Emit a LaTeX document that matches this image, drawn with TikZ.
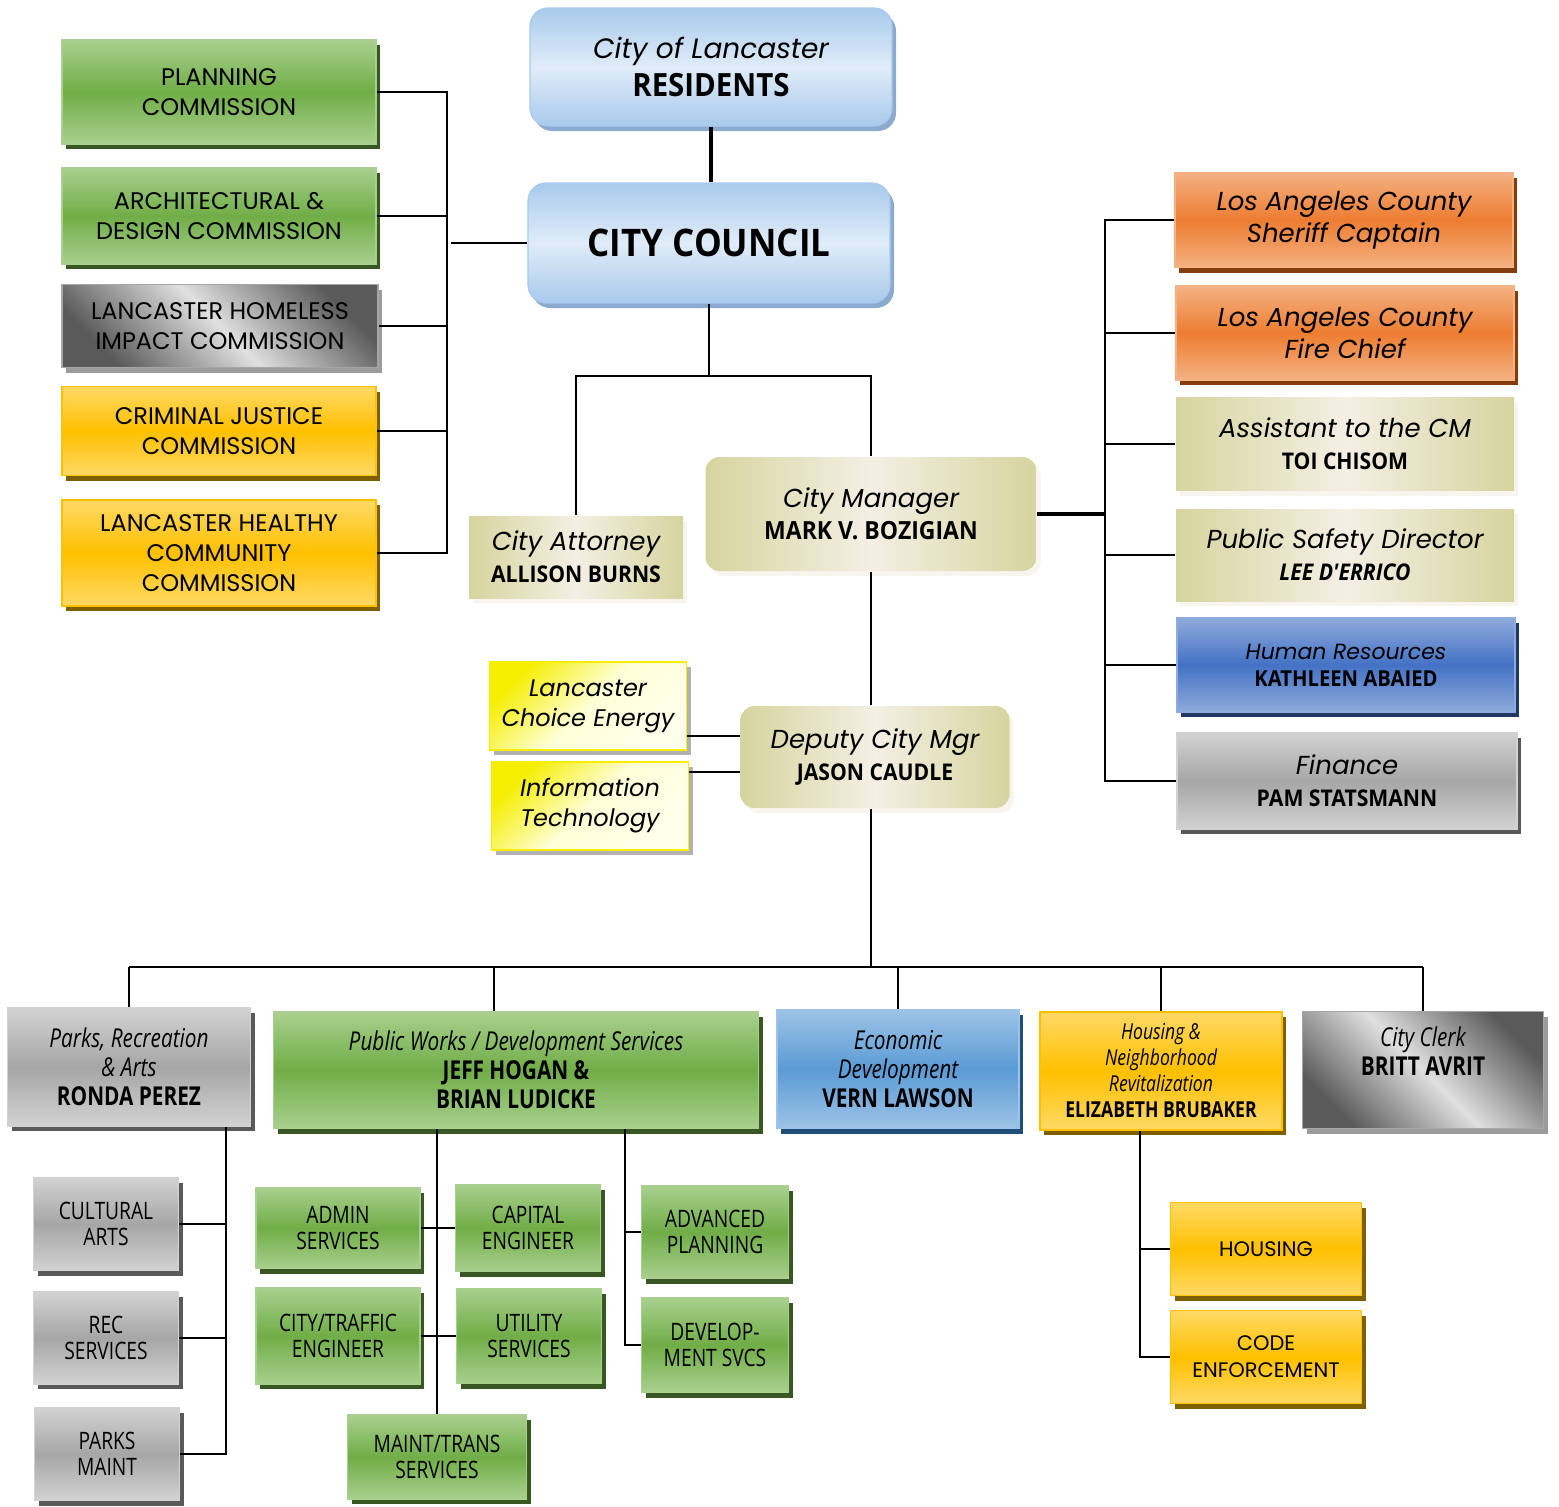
\documentclass[tikz,border=0pt]{standalone}
\usepackage{fontspec}
\setmainfont{Poppins}
\newfontfamily\nmfont[FakeStretch=0.92]{Open Sans}
\newfontfamily\cdfont[FakeStretch=0.8]{Open Sans}
\usetikzlibrary{shadows}
\definecolor{grnL}{RGB}{169,208,142}
\definecolor{grnD}{RGB}{112,173,71}
\definecolor{grnS}{RGB}{56,87,35}
\definecolor{ylwL}{RGB}{255,217,102}
\definecolor{ylwD}{RGB}{255,192,0}
\definecolor{ylwS}{RGB}{127,96,0}
\definecolor{orgL}{RGB}{244,177,131}
\definecolor{orgD}{RGB}{237,125,49}
\definecolor{orgS}{RGB}{132,60,12}
\definecolor{hrL}{RGB}{143,170,220}
\definecolor{hrD}{RGB}{68,114,196}
\definecolor{hrS}{RGB}{31,56,100}
\definecolor{ecL}{RGB}{157,195,230}
\definecolor{ecD}{RGB}{91,155,213}
\definecolor{ecS}{RGB}{31,78,121}
\definecolor{gryL}{RGB}{210,210,210}
\definecolor{gryD}{RGB}{166,166,166}
\definecolor{gryS}{RGB}{89,89,89}
\definecolor{gryK}{RGB}{90,90,90}
\definecolor{tanD}{RGB}{214,212,158}
\definecolor{tanL}{RGB}{244,239,228}
\definecolor{skyL}{RGB}{224,236,248}
\definecolor{skyD}{RGB}{168,202,236}
\definecolor{skyS}{RGB}{140,170,205}
\definecolor{lemL}{RGB}{255,255,215}
\definecolor{lemD}{RGB}{245,238,0}
\newcommand{\ttl}[1]{{\itshape #1}}
\newcommand{\nme}[1]{{\nmfont\bfseries #1}}
\tikzset{
  box/.style={rectangle,align=center,inner sep=2pt,line width=1.2pt},
  sz/.style 2 args={minimum width=#1pt,minimum height=#2pt},
  shd/.style={drop shadow={shadow xshift=4pt,shadow yshift=-5pt,fill=#1,opacity=1}},
  gbox/.style={box,draw=grnL,top color=grnL,bottom color=grnL,middle color=grnD,shd=grnS},
  ybox/.style={box,draw=ylwD,top color=ylwL,bottom color=ylwL,middle color=ylwD,shd=ylwS},
  obox/.style={box,draw=orgL,top color=orgL,bottom color=orgL,middle color=orgD,shd=orgS},
  hbox/.style={box,draw=hrL,top color=hrL,bottom color=hrL,middle color=hrD,shd=hrS},
  ebox/.style={box,draw=ecL,top color=ecL,bottom color=ecL,middle color=ecD,shd=ecS},
  pbox/.style={box,draw=gryL,top color=gryL,bottom color=gryL,middle color=gryD,shd=gryS},
  dbox/.style={box,draw=gryD,top color=gryK,bottom color=gryK,middle color=gryL!70!white,shading angle=-45,shd=gryS!60},
  tbox/.style={box,draw=none,left color=tanD,right color=tanD,middle color=tanL,shd=tanL!60!white},
  sbox/.style={box,draw=skyD,rounded corners=18pt,top color=skyD,bottom color=skyD,middle color=skyL,shd=skyS},
  lbox/.style={box,draw=lemD,top color=lemD,bottom color=lemL!50!white,middle color=lemL,shading angle=45,shd=gray!60},
  cmsn/.style={font=\fontsize{24}{30}\selectfont},
  head/.style={font=\fontsize{26}{32}\selectfont},
  low/.style={font=\cdfont\fontsize{26}{29}\selectfont},
  unit/.style={font=\cdfont\fontsize{24}{26}\selectfont},
  ln/.style={line width=2pt},
  thk/.style={line width=3.5pt}
}

\begin{document}
\begin{tikzpicture}[x=1pt,y=-1pt]
\useasboundingbox (0,0) rectangle (1559,1507);

% top of the chart
\node[sbox,font=\fontsize{28}{38}\selectfont,sz={362}{118}] (res) at (711,67) {\ttl{City of Lancaster}\\\nme{\fontsize{32}{38}\selectfont RESIDENTS}};
\node[sbox,sz={362}{120}] (council) at (709,243) {\nme{\fontsize{38}{42}\selectfont CITY COUNCIL}};

% commissions
\node[gbox,cmsn,sz={314}{104}] (plan) at (219,92) {PLANNING\\COMMISSION};
\node[gbox,cmsn,sz={314}{96}] (arch) at (219,216) {ARCHITECTURAL \&\\DESIGN COMMISSION};
\node[dbox,cmsn,sz={316}{83}] (home) at (220,326) {LANCASTER HOMELESS\\IMPACT COMMISSION};
\node[ybox,cmsn,sz={314}{89}] (crim) at (219,431) {CRIMINAL JUSTICE\\COMMISSION};
\node[ybox,cmsn,sz={314}{106}] (heal) at (219,553) {LANCASTER HEALTHY\\COMMUNITY\\COMMISSION};

% city attorney and manager
\node[tbox,head,sz={214}{82}] (att) at (576,557) {\ttl{City Attorney}\\\nme{\fontsize{23}{28}\selectfont ALLISON BURNS}};
\node[tbox,head,rounded corners=14pt,sz={331}{114}] (cm) at (871,514) {\ttl{City Manager}\\\nme{\fontsize{25}{30}\selectfont MARK V. BOZIGIAN}};

% right column
\node[obox,head,sz={338}{95}] (sher) at (1344,220) {\ttl{Los Angeles County}\\\ttl{Sheriff Captain}};
\node[obox,head,sz={338}{94}] (fire) at (1345,333) {\ttl{Los Angeles County}\\\ttl{Fire Chief}};
\node[tbox,head,sz={338}{93}] (asst) at (1345,444) {\ttl{Assistant to the CM}\\\nme{\fontsize{23}{28}\selectfont TOI CHISOM}};
\node[tbox,head,sz={338}{92}] (psd) at (1345,555) {\ttl{Public Safety Director}\\\nme{\fontsize{23}{28}\selectfont\itshape LEE D'ERRICO}};
\node[hbox,font=\fontsize{22}{27}\selectfont,sz={338}{94}] (hr) at (1346,665) {\ttl{Human Resources}\\\nme{\fontsize{22}{27}\selectfont KATHLEEN ABAIED}};
\node[pbox,head,sz={340}{96}] (fin) at (1347,781) {\ttl{Finance}\\\nme{\fontsize{23}{28}\selectfont PAM STATSMANN}};

% deputy and its units
\node[lbox,font=\fontsize{24}{30}\selectfont,sz={197}{88}] (lce) at (588,706) {\ttl{Lancaster}\\\ttl{Choice Energy}};
\node[lbox,font=\fontsize{24}{30}\selectfont,sz={197}{88}] (it) at (590,806) {\ttl{Information}\\\ttl{Technology}};
\node[tbox,head,rounded corners=14pt,sz={269}{102}] (dep) at (875,757) {\ttl{Deputy City Mgr}\\\nme{\fontsize{23}{28}\selectfont JASON CAUDLE}};

% departments
\node[pbox,low,sz={243}{118}] (parks) at (129,1067) {\ttl{Parks, Recreation}\\\ttl{\& Arts}\\{\bfseries RONDA PEREZ}};
\node[gbox,low,sz={485}{117}] (pw) at (516,1070) {\ttl{Public Works / Development Services}\\{\bfseries JEFF HOGAN \&}\\{\bfseries BRIAN LUDICKE}};
\node[ebox,low,sz={242}{119}] (econ) at (898,1069) {\ttl{Economic}\\\ttl{Development}\\{\bfseries VERN LAWSON}};
\node[ybox,font=\cdfont\fontsize{22}{26}\selectfont,sz={242}{118}] (hnr) at (1161,1071) {\ttl{Housing \&}\\\ttl{Neighborhood}\\\ttl{Revitalization}\\{\bfseries ELIZABETH BRUBAKER}};
\node[dbox,low,sz={241}{117}] (clerk) at (1423,1070) {\ttl{City Clerk}\\{\bfseries BRITT AVRIT}\\\strut};

% parks units
\node[pbox,unit,sz={145}{93}] (cult) at (106,1224) {CULTURAL\\ARTS};
\node[pbox,unit,sz={145}{92}] (rec) at (106,1338) {REC\\SERVICES};
\node[pbox,unit,sz={145}{93}] (pmnt) at (107,1454) {PARKS\\MAINT};

% public works units
\node[gbox,unit,sz={164}{81}] (admin) at (338,1228) {ADMIN\\SERVICES};
\node[gbox,unit,sz={145}{87}] (capi) at (528,1228) {CAPITAL\\ENGINEER};
\node[gbox,unit,sz={164}{96}] (traf) at (338,1336) {CITY/TRAFFIC\\ENGINEER};
\node[gbox,unit,sz={145}{95}] (util) at (529,1336) {UTILITY\\SERVICES};
\node[gbox,unit,sz={179}{84}] (mtr) at (437,1457) {MAINT/TRANS\\SERVICES};
\node[gbox,unit,sz={147}{93}] (adv) at (715,1232) {ADVANCED\\PLANNING};
\node[gbox,unit,sz={147}{95}] (dev) at (715,1345) {DEVELOP-\\MENT SVCS};

% housing units
\node[ybox,font=\fontsize{21}{27}\selectfont,sz={191}{93}] (hous) at (1266,1249) {HOUSING};
\node[ybox,font=\fontsize{21}{27}\selectfont,sz={191}{93}] (code) at (1266,1357) {CODE\\ENFORCEMENT};

% connectors
\coordinate (lb) at (447,0);
\coordinate (cj) at (713,376);
\coordinate (rb) at (1105,0);
\coordinate (bb) at (0,967);
\coordinate (pb) at (226,0);
\coordinate (wb) at (625,0);
\coordinate (hb) at (1140,0);

\draw[thk] (res.south) -- (res.south |- council.north);
\draw[ln] (plan.east) -- (plan.east -| lb) -- (heal.east -| lb) -- (heal.east);
\foreach \n in {arch,home,crim} \draw[ln] (\n.east) -- (\n.east -| lb);
\draw[ln] (council.west) -- ([xshift=4pt]council.west -| lb);

\draw[ln] (council.south) -- (council.south |- cj);
\draw[ln] (att.north) -- (att.north |- cj) -- (cm.north |- cj) -- (cm.north);

\draw[thk] (cm.east) -- (cm.east -| rb);
\draw[ln] (sher.west) -- (sher.west -| rb) -- (fin.west -| rb) -- (fin.west);
\foreach \n in {fire,asst,psd,hr} \draw[ln] (\n.west) -- (\n.west -| rb);

\draw[ln] (cm.south) -- (cm.south |- dep.north);
\draw[ln] ([yshift=-30pt]lce.east) -- ([yshift=-30pt]lce.east -| dep.west);
\draw[ln] ([yshift=34pt]it.east) -- ([yshift=34pt]it.east -| dep.west);

\draw[ln] (cm.south |- dep.south) -- (cm.south |- bb);
\draw[ln] (parks.north |- bb) -- (clerk.north |- bb);
\foreach \n in {parks,econ,hnr,clerk} \draw[ln] (\n.north |- bb) -- (\n.north);
\draw[ln] ([xshift=-22pt]pw.north) -- ([xshift=-22pt]pw.north |- bb);

\draw[ln] (parks.south -| pb) -- (pmnt.east -| pb) -- (pmnt.east);
\foreach \n in {cult,rec} \draw[ln] (\n.east) -- (\n.east -| pb);

\draw[ln] (mtr.north |- pw.south) -- (mtr.north);
\draw[ln] (admin.east) -- (capi.west);
\draw[ln] (traf.east) -- (util.west);
\draw[ln] (pw.south -| wb) -- (dev.west -| wb) -- (dev.west);
\draw[ln] (adv.west) -- (adv.west -| wb);

\draw[ln] (hnr.south -| hb) -- (code.west -| hb) -- (code.west);
\draw[ln] (hous.west) -- (hous.west -| hb);
\end{tikzpicture}
\end{document}
